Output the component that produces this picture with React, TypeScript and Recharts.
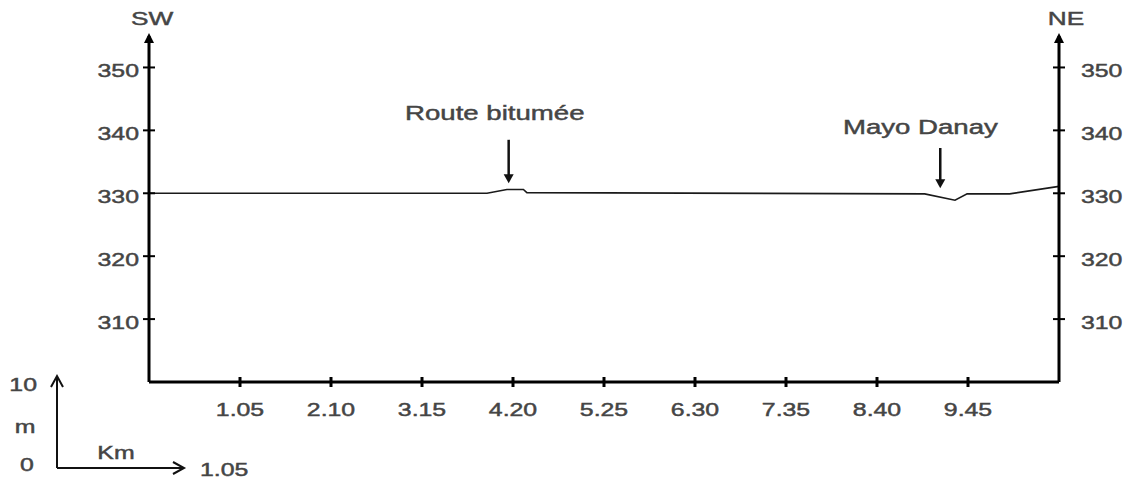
import React from "react";
import {
  LineChart,
  Line,
  XAxis,
  YAxis,
  ReferenceLine,
  ReferenceDot,
} from "recharts";

// profile (km along the line, elevation in m)
const distanceKm = [0, 3.9, 4.13, 4.32, 4.36, 8.95, 9.3, 9.44, 9.93, 10.5];
const elevationM = [330, 330, 330.6, 330.6, 330.1, 329.9, 328.9, 329.9, 329.9, 331.1];

const xTicks = [1.05, 2.1, 3.15, 4.2, 5.25, 6.3, 7.35, 8.4, 9.45];
const yTicks = [310, 320, 330, 340, 350];

// landmarks pointed at on the profile
const markLabels = ["Route bitumée", "Mayo Danay"];
const markKm = [4.15, 9.13];
const markTopM = [338.5, 337.2];
const markTipM = [331.6, 330.8];
const markLabelKm = [3.99, 8.9];
const markLabelM = [342.8, 340.5];

const profile = distanceKm.map((km, i) => ({ km, z: elevationM[i] }));

const FONT = "'Liberation Sans', Arial, Helvetica, sans-serif";
const GREY = "#454545";
const SX = 1.38; // the original lettering is stretched sideways

const SText = ({ x, y, anchor = "middle", size = 18, children }: any) => (
  <text
    transform={`translate(${x} ${y}) scale(${SX} 1)`}
    textAnchor={anchor}
    fontSize={size}
    fontFamily={FONT}
    fill={GREY}
    stroke={GREY}
    strokeWidth={0.45}
  >
    {children}
  </text>
);

const LeftTick = ({ x, y, payload }: any) => (
  <g>
    <line x1={x - 6} x2={x + 6} y1={y} y2={y} stroke="#000" strokeWidth={2} />
    <SText x={x - 10} y={y + 10} anchor="end">{payload.value}</SText>
  </g>
);

const RightTick = ({ x, y, payload }: any) => (
  <g>
    <line x1={x - 6} x2={x + 6} y1={y} y2={y} stroke="#000" strokeWidth={2} />
    <SText x={x + 22} y={y + 10} anchor="start">{payload.value}</SText>
  </g>
);

const BottomTick = ({ x, y, payload }: any) => (
  <g>
    <line x1={x} x2={x} y1={y - 5} y2={y + 5} stroke="#000" strokeWidth={3} />
    <SText x={x} y={y + 34}>{Number(payload.value).toFixed(2)}</SText>
  </g>
);

const axisHead = (name: string, dx: number, right: boolean) => (props: any) => {
  const vb = props.viewBox || {};
  const x = right ? vb.x : vb.x + (vb.width || 0);
  const top = vb.y;
  return (
    <g>
      <polygon points={`${x - 5},${top + 7} ${x + 5},${top + 7} ${x},${top - 3}`} fill="#000" />
      <SText x={x + dx} y={top - 11} size={19}>{name}</SText>
    </g>
  );
};

const Arrow = (p: any) => {
  const { x1, y1, x2, y2 } = p;
  return (
    <g>
      <line x1={x1} y1={y1} x2={x2} y2={y2 - 6} stroke="#111" strokeWidth={2.5} />
      <polygon points={`${x2 - 5},${y2 - 9} ${x2 + 5},${y2 - 9} ${x2},${y2}`} fill="#111" />
    </g>
  );
};

const ScaleKey = () => (
  <svg
    width={1134}
    height={482}
    style={{ position: "absolute", left: 0, top: 0, pointerEvents: "none" }}
  >
    <g stroke="#111" strokeWidth={2} fill="none">
      <line x1={57} y1={468} x2={57} y2={377} />
      <polyline points="51,387 57,376 63,387" />
      <line x1={57} y1={468} x2={183} y2={468} />
      <polyline points="173,462 184,468 173,474" />
    </g>
    <SText x={37} y={391} anchor="end">10</SText>
    <SText x={25} y={433}>m</SText>
    <SText x={27} y={471}>0</SText>
    <SText x={116} y={459}>Km</SText>
    <SText x={200} y={476} anchor="start">1.05</SText>
  </svg>
);

export default function App() {
  return (
    <div style={{ position: "absolute", left: 0, top: 0, width: 1134, height: 482, background: "#fff" }}>
      <LineChart
        width={1134}
        height={482}
        data={profile}
        margin={{ top: 36, right: 74, bottom: 99, left: 148 }}
      >
        <XAxis
          dataKey="km"
          type="number"
          domain={[0, 10.5]}
          ticks={xTicks}
          height={1}
          tickSize={0}
          tickMargin={0}
          tickLine={false}
          tick={<BottomTick />}
          axisLine={{ stroke: "#000", strokeWidth: 3 }}
        />
        <YAxis
          yAxisId="left"
          type="number"
          domain={[300, 355]}
          ticks={yTicks}
          width={1}
          tickSize={0}
          tickMargin={0}
          tickLine={false}
          tick={<LeftTick />}
          axisLine={{ stroke: "#000", strokeWidth: 3 }}
          label={{ content: axisHead("SW", 3, false) }}
        />
        <YAxis
          yAxisId="right"
          orientation="right"
          type="number"
          domain={[300, 355]}
          allowDataOverflow
          ticks={yTicks}
          width={1}
          tickSize={0}
          tickMargin={0}
          tickLine={false}
          tick={<RightTick />}
          axisLine={{ stroke: "#000", strokeWidth: 3 }}
          label={{ content: axisHead("NE", 7, true) }}
        />
        <Line
          yAxisId="left"
          type="linear"
          dataKey="z"
          stroke="#1a1a1a"
          strokeWidth={1.6}
          dot={false}
          isAnimationActive={false}
        />
        {/* same profile on the NE axis, invisible, so that axis gets its scale */}
        <Line
          yAxisId="right"
          type="linear"
          dataKey="z"
          stroke="none"
          dot={false}
          legendType="none"
          isAnimationActive={false}
        />
        {markLabels.map((name, i) => (
          <ReferenceLine
            key={`arrow-${name}`}
            yAxisId="left"
            segment={[
              { x: markKm[i], y: markTopM[i] },
              { x: markKm[i], y: markTipM[i] },
            ]}
            shape={Arrow}
          />
        ))}
        {markLabels.map((name, i) => (
          <ReferenceDot
            key={`label-${name}`}
            yAxisId="left"
            x={markLabelKm[i]}
            y={markLabelM[i]}
            r={1}
            shape={(p: any) => (
              <SText x={p.cx} y={p.cy + 7} size={20}>{name}</SText>
            )}
          />
        ))}
      </LineChart>
      <ScaleKey />
    </div>
  );
}
